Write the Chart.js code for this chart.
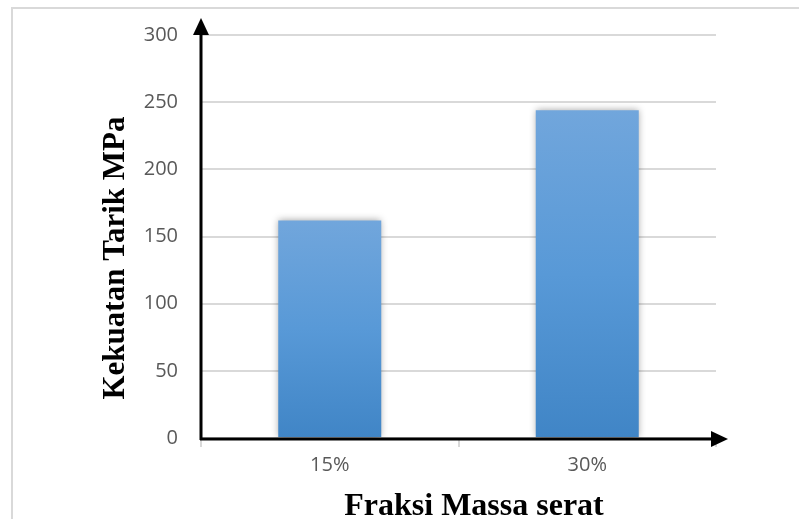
<!DOCTYPE html>
<html>
<head>
<meta charset="utf-8">
<script src="https://cdn.jsdelivr.net/npm/chart.js@4.4.1/dist/chart.umd.min.js"></script>
<style>
  html, body { margin: 0; padding: 0; background: #fff; }
  #wrap { width: 799px; height: 519px; position: relative; }
</style>
</head>
<body>
<div id="wrap"><canvas id="chart" width="799" height="519"></canvas></div>
<script>
// data
const categories = ['15%', '30%'];
const tensileStrength = [162, 244];
const yTicks = [0, 50, 100, 150, 200, 250, 300];
const yTitle = 'Kekuatan Tarik MPa';
const xTitle = 'Fraksi Massa serat';

// each bar gets its own top-to-bottom gradient, like Excel does
const barGradient = (context) => {
  const { chart } = context;
  const area = chart.chartArea;
  const yScale = chart.scales.y;
  if (!area || !yScale) return '#5b9bd5';
  const top = yScale.getPixelForValue(context.raw);
  const g = chart.ctx.createLinearGradient(0, top, 0, area.bottom);
  g.addColorStop(0, '#71a6dc');
  g.addColorStop(0.5, '#5899d7');
  g.addColorStop(1, '#4085c6');
  return g;
};

// frame, arrows and axis titles
const decor = {
  id: 'decor',
  beforeDraw(chart) {
    const ctx = chart.ctx;
    ctx.save();
    ctx.fillStyle = '#fff';
    ctx.fillRect(0, 0, chart.width, chart.height);
    ctx.strokeStyle = '#d9d9d9';
    ctx.lineWidth = 2;
    ctx.strokeRect(12, 8, chart.width + 20, chart.height + 20);
    ctx.restore();
  },
  beforeDatasetsDraw(chart) {
    const ctx = chart.ctx;
    ctx.save();
    ctx.shadowColor = 'rgba(0,0,0,0.35)';
    ctx.shadowBlur = 7;
    ctx.shadowOffsetX = 0;
    ctx.shadowOffsetY = 0;
  },
  afterDatasetsDraw(chart) {
    chart.ctx.restore();
  },
  afterDraw(chart) {
    const ctx = chart.ctx;
    const a = chart.chartArea;
    const x0 = a.left, y0 = a.bottom + 1;
    ctx.save();
    ctx.strokeStyle = '#000';
    ctx.fillStyle = '#000';
    ctx.lineWidth = 3;
    ctx.beginPath();
    ctx.moveTo(x0, y0 + 1);
    ctx.lineTo(x0, 30);
    ctx.moveTo(x0 - 1, y0);
    ctx.lineTo(714, y0);
    ctx.stroke();
    // arrow heads
    ctx.beginPath();
    ctx.moveTo(x0, 18);
    ctx.lineTo(x0 - 8, 35);
    ctx.lineTo(x0 + 8, 35);
    ctx.closePath();
    ctx.fill();
    ctx.beginPath();
    ctx.moveTo(728, y0);
    ctx.lineTo(711, y0 - 8);
    ctx.lineTo(711, y0 + 8);
    ctx.closePath();
    ctx.fill();

    ctx.fillStyle = '#000';
    ctx.textAlign = 'center';
    ctx.textBaseline = 'middle';
    ctx.font = 'bold 31px "Liberation Serif", "Times New Roman", serif';
    ctx.translate(116, 258);
    ctx.rotate(-Math.PI / 2);
    ctx.fillText(yTitle, 0, 0);
    ctx.setTransform(1, 0, 0, 1, 0, 0);
    ctx.font = 'bold 32px "Liberation Serif", "Times New Roman", serif';
    ctx.textBaseline = 'alphabetic';
    ctx.fillText(xTitle, 474, 515);
    ctx.restore();
  }
};

new Chart(document.getElementById('chart'), {
  type: 'bar',
  data: {
    labels: categories,
    datasets: [{
      data: tensileStrength,
      backgroundColor: barGradient,
      borderWidth: 0,
      categoryPercentage: 1,
      barPercentage: 0.4
    }]
  },
  options: {
    responsive: false,
    animation: false,
    devicePixelRatio: 1,
    layout: { padding: { left: 0, right: 83, top: 32, bottom: 0 } },
    plugins: { legend: { display: false }, tooltip: { enabled: false } },
    scales: {
      x: {
        afterFit: (s) => { s.height = 81; },
        grid: {
          offset: true,
          drawOnChartArea: false,
          drawTicks: true,
          tickLength: 9,
          color: '#d9d9d9',
          lineWidth: 2
        },
        border: { display: false },
        ticks: {
          color: '#595959',
          font: { family: '"Open Sans", sans-serif', size: 20 },
          padding: 6
        }
      },
      y: {
        min: 0,
        max: 300,
        afterFit: (s) => { s.width = 201; },
        afterBuildTicks: (s) => { s.ticks = yTicks.map(v => ({ value: v })); },
        grid: { color: '#d9d9d9', lineWidth: 2, drawTicks: false },
        border: { display: false },
        ticks: {
          color: '#595959',
          font: { family: '"Open Sans", sans-serif', size: 20 },
          padding: 23
        }
      }
    }
  },
  plugins: [decor]
});
</script>
</body>
</html>
